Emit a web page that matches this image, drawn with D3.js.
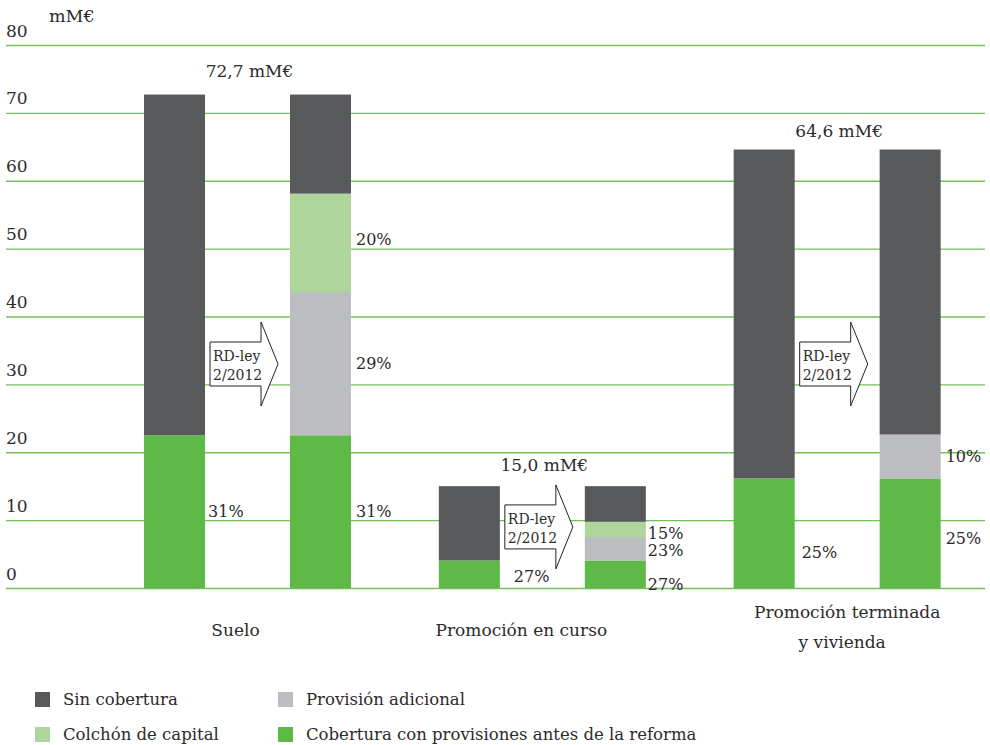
<!DOCTYPE html>
<html>
<head>
<meta charset="utf-8">
<script src="https://cdn.jsdelivr.net/npm/d3@7"></script>
<style>
  html, body { margin: 0; padding: 0; background: #fff; }
  svg text { font-family: "DejaVu Serif", serif; fill: #2b2b2b; }
</style>
</head>
<body>
<svg id="chart" width="990" height="745"></svg>
<script>
// Categories and the two states per category (before / after the reform)
const categories = ["Suelo", "Promoción en curso", "Promoción terminada\ny vivienda"];
const states = ["antes", "despues"];

// Segment values in mM€ for the six bars (cat0 antes, cat0 después, cat1 antes, ...)
const cobertura = [22.5, 22.5, 4.05, 4.05, 16.15, 16.15];
const provision = [0, 21.1, 0, 3.45, 0, 6.46];
const colchon   = [0, 14.5, 0, 2.25, 0, 0];
const sinCob    = [50.2, 14.6, 10.95, 5.25, 48.45, 41.99];

// Percentage labels per segment
const pctCobertura = ["31%", "31%", "27%", "27%", "25%", "25%"];
const pctProvision = ["", "29%", "", "23%", "", "10%"];
const pctColchon   = ["", "20%", "", "15%", "", ""];

// Totals per category
const totals = [72.7, 15.0, 64.6];
const totalLabels = ["72,7 mM€", "15,0 mM€", "64,6 mM€"];

const yTicks = [0, 10, 20, 30, 40, 50, 60, 70, 80];

const seriesNames = ["Sin cobertura", "Provisión adicional", "Colchón de capital", "Cobertura con provisiones antes de la reforma"];
const seriesColors = ["#58595b", "#bcbdc1", "#aed69b", "#5fb946"];

const svg = d3.select("#chart");
const FONT = "DejaVu Serif, serif";

const y = d3.scaleLinear().domain([0, 80]).range([588, 45]);
const x = d3.scaleBand().domain(categories).range([100, 984.5]).paddingInner(0).paddingOuter(0);
const xi = d3.scaleBand().domain(states).range([44, 251]).paddingInner(0.582).paddingOuter(0);

// Grid lines with tick labels above them
const axis = d3.axisRight(y).tickValues(yTicks).tickSize(979).tickFormat(d3.format("d"));
const gAxis = svg.append("g").attr("transform", "translate(6,0)").call(axis);
gAxis.select(".domain").remove();
gAxis.selectAll(".tick line").attr("stroke", "#74c05a").attr("stroke-width", 1.3);
gAxis.selectAll(".tick text")
  .attr("x", 0).attr("dy", -9)
  .attr("text-anchor", "start")
  .style("font-size", "17px")
  .style("font-family", FONT)
  .attr("fill", "#2b2b2b");

svg.append("text").attr("x", 49).attr("y", 22).style("font-size", "17.5px").text("mM€");

// Stack the segments for each bar
const order = [
  { vals: cobertura, color: seriesColors[3], pct: pctCobertura },
  { vals: provision, color: seriesColors[1], pct: pctProvision },
  { vals: colchon,   color: seriesColors[2], pct: pctColchon },
  { vals: sinCob,    color: seriesColors[0], pct: null }
];

const bars = [];
categories.forEach((c, ci) => {
  states.forEach((s, si) => {
    const idx = ci * 2 + si;
    let base = 0;
    order.forEach((o, oi) => {
      const v = o.vals[idx];
      bars.push({ c, s, idx, oi, y0: base, y1: base + v, color: o.color, pct: o.pct ? o.pct[idx] : "" });
      base += v;
    });
  });
});

svg.append("g").selectAll("rect")
  .data(bars.filter(d => d.y1 > d.y0))
  .join("rect")
  .attr("x", d => x(d.c) + xi(d.s))
  .attr("width", xi.bandwidth())
  .attr("y", d => y(d.y1))
  .attr("height", d => y(d.y0) - y(d.y1))
  .attr("fill", d => d.color);

// Percentage labels: centred on the segment, a few nudged where space is tight
const nudge = { "2-0": 2, "3-0": 10, "3-2": 4, "4-0": 19, "5-0": 5, "3-1": 2, "1-2": -3 };
const pctX = { 0: 3, 2: 14, 3: 2, 4: 7 };
svg.append("g").selectAll("text")
  .data(bars.filter(d => d.pct))
  .join("text")
  .attr("x", d => x(d.c) + xi(d.s) + xi.bandwidth() + (pctX[d.idx] !== undefined ? pctX[d.idx] : 5))
  .attr("y", d => (y(d.y0) + y(d.y1)) / 2 + (nudge[d.idx + "-" + d.oi] || 0))
  .attr("dy", "0.35em")
  .style("font-size", "16px")
  .text(d => d.pct);

// Total labels above each category
const pairCenter = c => x(c) + (xi("antes") + xi("despues") + xi.bandwidth()) / 2;
const totalGap = [17.5, 15, 12.5];
svg.append("g").selectAll("text")
  .data(categories)
  .join("text")
  .attr("x", c => pairCenter(c) + 2)
  .attr("y", (c, i) => y(totals[i]) - totalGap[i])
  .attr("text-anchor", "middle")
  .style("font-size", "17px")
  .text((c, i) => totalLabels[i]);

// Arrows between the two bars of each category
const arrowMid = [33, 9.0, 33];
categories.forEach((c, i) => {
  const left = x(c) + xi("antes") + xi.bandwidth() + 5;
  const cy = y(arrowMid[i]);
  const w = 51, hh = 22, headH = 42, tip = 17;
  const path = d3.path();
  path.moveTo(left, cy - hh);
  path.lineTo(left + w, cy - hh);
  path.lineTo(left + w, cy - headH);
  path.lineTo(left + w + tip, cy);
  path.lineTo(left + w, cy + headH);
  path.lineTo(left + w, cy + hh);
  path.lineTo(left, cy + hh);
  path.closePath();
  svg.append("path").attr("d", path.toString())
    .attr("fill", "#fff").attr("stroke", "#222").attr("stroke-width", 1);
  svg.append("text").attr("x", left + 3).attr("y", cy - 3).style("font-size", "14px").text("RD-ley");
  svg.append("text").attr("x", left + 3).attr("y", cy + 16).style("font-size", "14px").text("2/2012");
});

// Category labels
const catShift = [-12, -21, 10];
categories.forEach((c, i) => {
  const lines = c.split("\n");
  lines.forEach((ln, li) => {
    svg.append("text")
      .attr("x", pairCenter(c) + catShift[i] - (li ? 5 : 0))
      .attr("y", lines.length > 1 ? 618 + li * 30 : 636)
      .attr("text-anchor", "middle")
      .style("font-size", "17px")
      .text(ln);
  });
});

// Legend
const legendPos = [[35, 699], [278, 699], [35, 734], [278, 734]];
const legendOrder = [0, 1, 2, 3];
const lg = svg.append("g").selectAll("g")
  .data(legendOrder)
  .join("g")
  .attr("transform", (d, i) => `translate(${legendPos[i][0]},${legendPos[i][1]})`);
lg.append("rect").attr("x", 0).attr("y", -7).attr("width", 15).attr("height", 15).attr("fill", d => seriesColors[d]);
lg.append("text").attr("x", 28).attr("y", 0).attr("dy", "0.35em").style("font-size", "16.5px").text(d => seriesNames[d]);
</script>
</body>
</html>
